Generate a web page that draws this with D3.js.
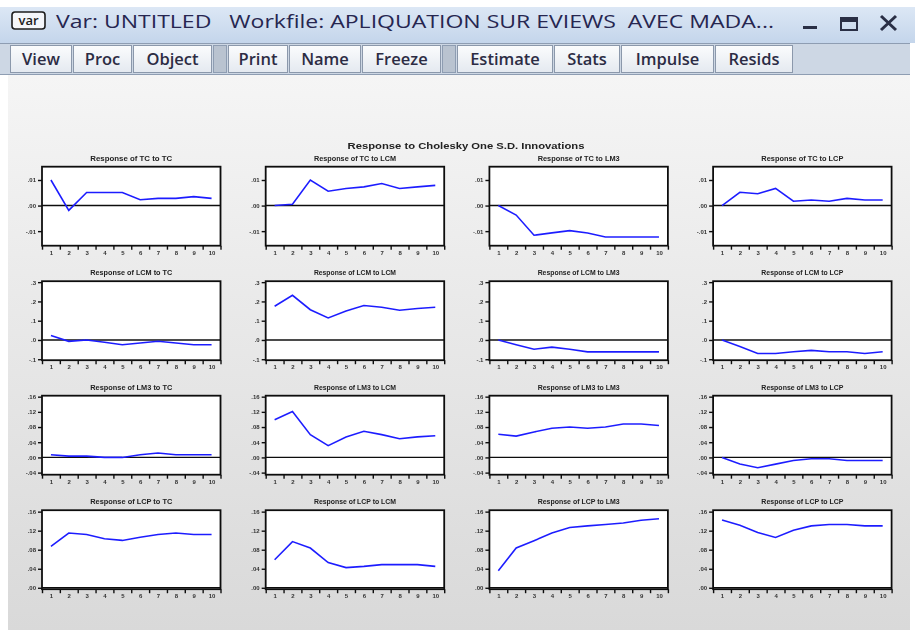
<!DOCTYPE html>
<html>
<head>
<meta charset="utf-8">
<script src="https://cdn.jsdelivr.net/npm/d3@7/dist/d3.min.js"></script>
<style>
  html, body { margin: 0; padding: 0; background: #ffffff; }
  svg { display: block; }
  .win-title { font-family: "Open Sans", "Noto Sans", sans-serif; white-space: pre; }
  .btn-label { font-family: "Open Sans", "Noto Sans", sans-serif; }
  .chart-text { font-family: "Liberation Sans", Arial, sans-serif; }
</style>
</head>
<body>
<svg id="view" width="915" height="630"></svg>
<script>
// ---- impulse response data (periods 1..10) ----
const periods = [1, 2, 3, 4, 5, 6, 7, 8, 9, 10];
const variables = ["TC", "LCM", "LM3", "LCP"];

// responses of TC
const tcToTc   = [0.0100, -0.0019, 0.0051, 0.0051, 0.0051, 0.0023, 0.0028, 0.0028, 0.0035, 0.0028];
const tcToLcm  = [0.0000, 0.0005, 0.0100, 0.0056, 0.0067, 0.0073, 0.0086, 0.0067, 0.0073, 0.0079];
const tcToLm3  = [0.0000, -0.0037, -0.0116, -0.0107, -0.0098, -0.0107, -0.0123, -0.0123, -0.0123, -0.0123];
const tcToLcp  = [0.0000, 0.0052, 0.0046, 0.0067, 0.0017, 0.0022, 0.0017, 0.0028, 0.0022, 0.0022];
// responses of LCM
const lcmToTc  = [0.023, -0.007, 0.000, -0.012, -0.025, -0.016, -0.007, -0.016, -0.025, -0.025];
const lcmToLcm = [0.175, 0.232, 0.157, 0.114, 0.150, 0.179, 0.170, 0.154, 0.163, 0.170];
const lcmToLm3 = [0.000, -0.025, -0.048, -0.037, -0.048, -0.062, -0.062, -0.062, -0.062, -0.062];
const lcmToLcp = [0.000, -0.034, -0.070, -0.070, -0.061, -0.054, -0.061, -0.061, -0.070, -0.061];
// responses of LM3
const lm3ToTc  = [0.0070, 0.0035, 0.0035, 0.0000, 0.0000, 0.0070, 0.0115, 0.0070, 0.0070, 0.0070];
const lm3ToLcm = [0.099, 0.121, 0.060, 0.031, 0.054, 0.069, 0.060, 0.049, 0.054, 0.057];
const lm3ToLm3 = [0.061, 0.056, 0.067, 0.077, 0.080, 0.077, 0.080, 0.088, 0.088, 0.084];
const lm3ToLcp = [0.000, -0.0176, -0.027, -0.0176, -0.008, -0.0035, -0.0035, -0.008, -0.008, -0.008];
// responses of LCP
const lcpToTc  = [0.087, 0.115, 0.112, 0.103, 0.0995, 0.106, 0.112, 0.115, 0.112, 0.112];
const lcpToLcm = [0.059, 0.097, 0.0835, 0.053, 0.0424, 0.045, 0.0487, 0.0487, 0.0487, 0.045];
const lcpToLm3 = [0.036, 0.0835, 0.099, 0.115, 0.1266, 0.130, 0.133, 0.136, 0.142, 0.145];
const lcpToLcp = [0.1426, 0.1315, 0.116, 0.1057, 0.121, 0.130, 0.133, 0.133, 0.130, 0.130];

const responses = [
  [tcToTc, tcToLcm, tcToLm3, tcToLcp],
  [lcmToTc, lcmToLcm, lcmToLm3, lcmToLcp],
  [lm3ToTc, lm3ToLcm, lm3ToLm3, lm3ToLcp],
  [lcpToTc, lcpToLcm, lcpToLm3, lcpToLcp]
];

// y-axis tick values and labels, one set per responding variable
const tickValuesTC  = [-0.01, 0.00, 0.01];
const tickLabelsTC  = ["-.01", ".00", ".01"];
const tickValuesLCM = [-0.1, 0.0, 0.1, 0.2, 0.3];
const tickLabelsLCM = ["-.1", ".0", ".1", ".2", ".3"];
const tickValuesLM3 = [-0.04, 0.00, 0.04, 0.08, 0.12, 0.16];
const tickLabelsLM3 = ["-.04", ".00", ".04", ".08", ".12", ".16"];
const tickValuesLCP = [0.00, 0.04, 0.08, 0.12, 0.16];
const tickLabelsLCP = [".00", ".04", ".08", ".12", ".16"];

const rowTicks = [
  { values: tickValuesTC,  labels: tickLabelsTC,  domain: [-0.0157, 0.0152] },
  { values: tickValuesLCM, labels: tickLabelsLCM, domain: [-0.105, 0.305] },
  { values: tickValuesLM3, labels: tickLabelsLM3, domain: [-0.0455, 0.1625] },
  { values: tickValuesLCP, labels: tickLabelsLCP, domain: [-0.003, 0.163] }
];

const windowTitle = "Var: UNTITLED   Workfile: APLIQUATION SUR EVIEWS  AVEC MADA...";
const toolbarButtons = [
  ["View", 10, 72], ["Proc", 73, 132], ["Object", 133, 212],
  ["Print", 228, 288], ["Name", 289, 361], ["Freeze", 362, 441],
  ["Estimate", 457, 553], ["Stats", 554, 620], ["Impulse", 621, 714], ["Resids", 715, 793]
];
const toolbarSeparators = [[213, 227], [442, 456]];
const mainTitle = "Response to Cholesky One S.D. Innovations";

// ---- drawing ----
const svg = d3.select("#view");
const defs = svg.append("defs");

const tbGrad = defs.append("linearGradient").attr("id", "titlebar").attr("x1", 0).attr("y1", 0).attr("x2", 0).attr("y2", 1);
tbGrad.append("stop").attr("offset", "0%").attr("stop-color", "#dce7f5");
tbGrad.append("stop").attr("offset", "100%").attr("stop-color", "#c4d5eb");

const btnGrad = defs.append("linearGradient").attr("id", "button").attr("x1", 0).attr("y1", 0).attr("x2", 0).attr("y2", 1);
btnGrad.append("stop").attr("offset", "0%").attr("stop-color", "#fbfcfd");
btnGrad.append("stop").attr("offset", "100%").attr("stop-color", "#e4e9f0");

const bgGrad = defs.append("linearGradient").attr("id", "canvasbg").attr("x1", 0).attr("y1", 0).attr("x2", 0).attr("y2", 1);
bgGrad.append("stop").attr("offset", "0%").attr("stop-color", "#f5f5f5");
bgGrad.append("stop").attr("offset", "100%").attr("stop-color", "#d9d9d9");

defs.append("filter").attr("id", "soft")
  .append("feGaussianBlur").attr("stdDeviation", 0.35);

// window frame
svg.append("rect").attr("x", 0).attr("y", 0).attr("width", 915).attr("height", 630).attr("fill", "#ffffff");
svg.append("rect").attr("x", 0).attr("y", 7).attr("width", 915).attr("height", 36).attr("fill", "url(#titlebar)");

// "var" icon
const icon = svg.append("g").attr("transform", "translate(12,12)");
icon.append("rect").attr("x", 0).attr("y", 0).attr("width", 33).attr("height", 17).attr("rx", 3)
  .attr("fill", "#f4f6fa").attr("stroke", "#1c1c1c").attr("stroke-width", 1.6);
icon.append("text").attr("x", 16.5).attr("y", 13).attr("text-anchor", "middle")
  .attr("class", "btn-label").attr("font-size", 13).attr("font-weight", 600).attr("fill", "#1c1c1c").text("var");

svg.append("text").attr("class", "win-title").attr("x", 56).attr("y", 28)
  .attr("font-size", 19).attr("fill", "#262650")
  .attr("textLength", 718).attr("lengthAdjust", "spacingAndGlyphs")
  .text(windowTitle);

// caption buttons
svg.append("rect").attr("x", 803).attr("y", 26).attr("width", 14).attr("height", 3).attr("fill", "#2a2f45");
svg.append("rect").attr("x", 841).attr("y", 18).attr("width", 16).attr("height", 12).attr("fill", "none")
  .attr("stroke", "#2a2f45").attr("stroke-width", 2);
svg.append("rect").attr("x", 841).attr("y", 18).attr("width", 16).attr("height", 4).attr("fill", "#2a2f45");
svg.append("path").attr("d", "M881,16 L896,30 M896,16 L881,30").attr("stroke", "#2a2f45").attr("stroke-width", 3);

// toolbar
svg.append("rect").attr("x", 0).attr("y", 43).attr("width", 910).attr("height", 32).attr("fill", "#cdd7e4");
svg.append("line").attr("x1", 0).attr("x2", 910).attr("y1", 43.5).attr("y2", 43.5).attr("stroke", "#8e9db2");
svg.append("line").attr("x1", 0).attr("x2", 910).attr("y1", 74.5).attr("y2", 74.5).attr("stroke", "#8e9db2");
toolbarSeparators.forEach(([a, b]) => {
  svg.append("rect").attr("x", a + 0.5).attr("y", 45.5).attr("width", b - a - 1).attr("height", 27)
    .attr("fill", "#b9c3d0").attr("stroke", "#8e9db2");
});
toolbarButtons.forEach(([label, a, b]) => {
  svg.append("rect").attr("x", a + 0.5).attr("y", 45.5).attr("width", b - a - 1).attr("height", 27)
    .attr("fill", "url(#button)").attr("stroke", "#8b98ab");
  svg.append("text").attr("class", "btn-label").attr("x", (a + b) / 2).attr("y", 65)
    .attr("text-anchor", "middle").attr("font-size", 16.5).attr("font-weight", 600)
    .attr("fill", "#2c2c44").text(label);
});

// graph canvas
svg.append("rect").attr("x", 8).attr("y", 75).attr("width", 902).attr("height", 555).attr("fill", "url(#canvasbg)");

const chart = svg.append("g").attr("class", "chart-text").attr("filter", "url(#soft)");

chart.append("text").attr("x", 466).attr("y", 149).attr("text-anchor", "middle")
  .attr("font-size", 8.5).attr("font-weight", "bold").attr("fill", "#222")
  .attr("textLength", 237).attr("lengthAdjust", "spacingAndGlyphs")
  .text(mainTitle);

const panelW = 178.5, panelH = 79;
const colLeft = c => 42 + 223.7 * c;
const rowTop = r => 166.7 + 114.5 * r;

const x = d3.scaleLinear().domain([0.5, 10.5]).range([0, panelW]);
const boundaries = d3.range(0.5, 11, 1);

responses.forEach((row, r) => {
  const spec = rowTicks[r];
  const y = d3.scaleLinear().domain(spec.domain).range([panelH, 0]);
  row.forEach((series, c) => {
    const g = chart.append("g").attr("transform", `translate(${colLeft(c)},${rowTop(r)})`);

    g.append("text").attr("x", panelW / 2).attr("y", -6).attr("text-anchor", "middle")
      .attr("font-size", 6.5).attr("font-weight", "bold").attr("fill", "#222")
      .attr("textLength", 82).attr("lengthAdjust", "spacingAndGlyphs")
      .text(`Response of ${variables[r]} to ${variables[c]}`);

    g.append("rect").attr("width", panelW).attr("height", panelH).attr("fill", "#ffffff");

    // y axis
    const yAxis = d3.axisLeft(y).tickValues(spec.values).tickSize(4).tickPadding(2)
      .tickFormat((d, i) => spec.labels[i]);
    const ya = g.append("g").call(yAxis);
    ya.select(".domain").remove();
    ya.selectAll("line").attr("stroke", "#111").attr("stroke-width", 1.4);
    ya.selectAll("text").attr("font-size", 6).attr("font-weight", "bold").attr("fill", "#333");

    // x axis: marks at period boundaries, labels at period centres
    const xTicks = d3.axisBottom(x).tickValues(boundaries).tickSize(4).tickFormat("");
    const xa = g.append("g").attr("transform", `translate(0,${panelH})`).call(xTicks);
    xa.select(".domain").remove();
    xa.selectAll("line").attr("stroke", "#111").attr("stroke-width", 1.4);
    const xLabels = d3.axisBottom(x).tickValues(periods).tickSize(0).tickPadding(5);
    const xl = g.append("g").attr("transform", `translate(0,${panelH})`).call(xLabels);
    xl.select(".domain").remove();
    xl.selectAll("text").attr("font-size", 6).attr("font-weight", "bold").attr("fill", "#333");

    // zero line
    if (y(0) > 0 && y(0) < panelH) {
      g.append("line").attr("x1", 0).attr("x2", panelW).attr("y1", y(0)).attr("y2", y(0))
        .attr("stroke", "#111").attr("stroke-width", 1.4);
    }

    // response line
    g.append("path").datum(series)
      .attr("fill", "none").attr("stroke", "#1f1fff").attr("stroke-width", 1.6)
      .attr("d", d3.line().x((d, i) => x(periods[i])).y(d => y(d)));

    // frame
    g.append("rect").attr("width", panelW).attr("height", panelH)
      .attr("fill", "none").attr("stroke", "#111").attr("stroke-width", 1.8);
  });
});
</script>
</body>
</html>
